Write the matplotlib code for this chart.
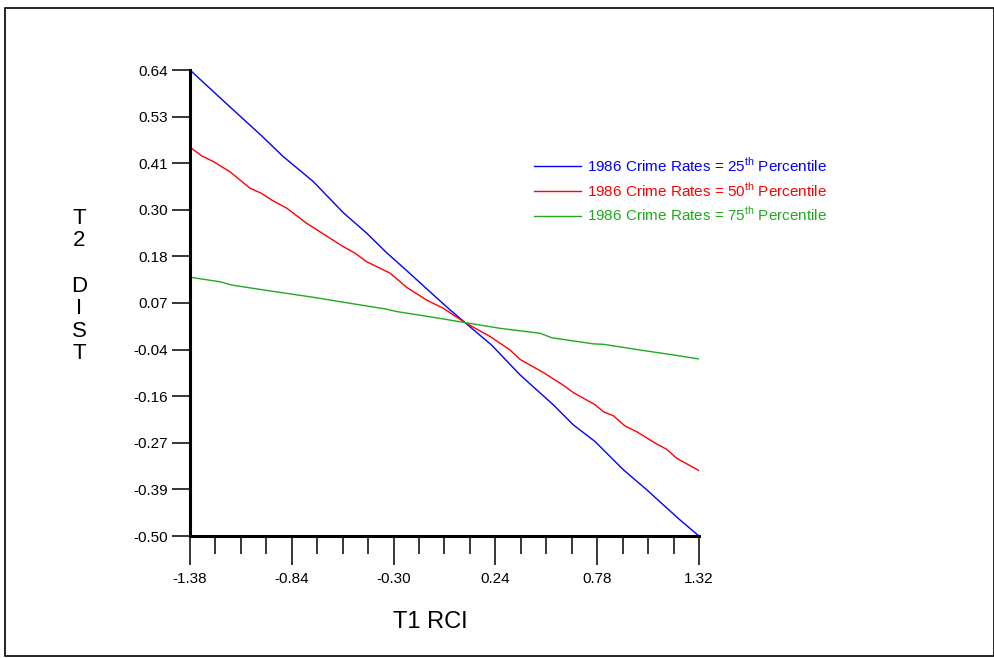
import matplotlib.pyplot as plt
import numpy as np
from matplotlib.patches import Rectangle
from matplotlib.ticker import FixedLocator, FormatStrFormatter

# values
x_25 = [-1.38, -1.265, -1.159, -1.00, -0.885, -0.726, -0.567, -0.443, -0.337, -0.230,
        -0.063, 0.0, 0.079, 0.220, 0.371, 0.547, 0.653, 0.769, 0.919, 1.043, 1.210, 1.32]
y_25 = [0.64, 0.591, 0.546, 0.479, 0.428, 0.367, 0.291, 0.241, 0.193, 0.149,
        0.079, 0.053, 0.022, -0.033, -0.106, -0.179, -0.228, -0.269, -0.338, -0.387, -0.457, -0.50]

x_50 = [-1.38, -1.318, -1.256, -1.168, -1.062, -1.00, -0.947, -0.867, -0.761, -0.673,
        -0.567, -0.505, -0.443, -0.319, -0.230, -0.124, -0.036, 0.079, 0.212, 0.318,
        0.371, 0.494, 0.600, 0.653, 0.769, 0.813, 0.866, 0.928, 0.990, 1.096, 1.149, 1.202, 1.32]
y_50 = [0.451, 0.430, 0.416, 0.391, 0.351, 0.338, 0.322, 0.302, 0.265, 0.239,
        0.208, 0.192, 0.171, 0.143, 0.108, 0.077, 0.057, 0.022, -0.012, -0.045,
        -0.068, -0.100, -0.131, -0.149, -0.179, -0.196, -0.206, -0.231, -0.245, -0.275, -0.288, -0.310, -0.340]

x_75 = [-1.38, -1.221, -1.159, -0.991, -0.726, -0.514, -0.337, -0.283, -0.089, 0.079,
        0.265, 0.477, 0.539, 0.760, 0.813, 1.007, 1.184, 1.32]
y_75 = [0.133, 0.122, 0.114, 0.102, 0.084, 0.068, 0.055, 0.049, 0.035, 0.022,
        0.008, -0.004, -0.015, -0.030, -0.031, -0.045, -0.057, -0.067]

labels = [r"1986 Crime Rates = 25$^{\mathrm{th}}$ Percentile",
          r"1986 Crime Rates = 50$^{\mathrm{th}}$ Percentile",
          r"1986 Crime Rates = 75$^{\mathrm{th}}$ Percentile"]
colors = ["#0000ff", "#ff0000", "#1faa1f"]

x_min, x_max = -1.38, 1.32
y_min, y_max = -0.50, 0.64

plt.rcParams["font.family"] = ["Liberation Sans", "DejaVu Sans"]
plt.rcParams["mathtext.fontset"] = "custom"
plt.rcParams["mathtext.rm"] = "Liberation Sans"

fig = plt.figure(figsize=(9.95, 6.58), dpi=100)
ax = fig.add_axes([190 / 995, 1 - 536 / 658, 509 / 995, 466 / 658])

for xs, ys, lab, col in zip([x_25, x_50, x_75], [y_25, y_50, y_75], labels, colors):
    ax.plot(xs, ys, color=col, lw=1.0, label=lab)

ax.set_xlim(x_min, x_max)
ax.set_ylim(y_min, y_max)

for side in ["top", "right"]:
    ax.spines[side].set_visible(False)
for side in ["left", "bottom"]:
    ax.spines[side].set_linewidth(2.2)

ax.xaxis.set_major_locator(FixedLocator(np.linspace(x_min, x_max, 6)))
ax.xaxis.set_minor_locator(FixedLocator(np.linspace(x_min, x_max, 21)))
ax.xaxis.set_major_formatter(FormatStrFormatter("%.2f"))
ax.yaxis.set_major_locator(FixedLocator(np.linspace(y_min, y_max, 11)))
ax.yaxis.set_major_formatter(FormatStrFormatter("%.2f"))

ax.tick_params(axis="x", which="major", direction="out", length=21, width=1.1, pad=5, labelsize=11)
ax.tick_params(axis="x", which="minor", direction="out", length=13, width=1.1)
ax.tick_params(axis="y", which="major", direction="out", length=13, width=1.1, pad=3, labelsize=11)

fig.text(430 / 995, 1 - 622 / 658, "T1 RCI", fontsize=17, ha="center", va="center")
fig.text(79 / 995, 1 - 286 / 658, "T\n2\n\nD\nI\nS\nT", fontsize=16, ha="center", va="center",
         linespacing=1.1)

leg = fig.legend(loc="upper left", bbox_to_anchor=(534 / 995, 1 - 156 / 658), frameon=False,
                 fontsize=11, handlelength=3.1, handletextpad=0.4, labelspacing=0.4,
                 borderpad=0, borderaxespad=0)
for txt, col in zip(leg.get_texts(), colors):
    txt.set_color(col)

fig.patches.append(Rectangle((5 / 995, 2 / 658), 989 / 995, 648 / 658, transform=fig.transFigure,
                             fill=False, edgecolor="black", lw=1.2))

fig.savefig("out.png", dpi=100)
